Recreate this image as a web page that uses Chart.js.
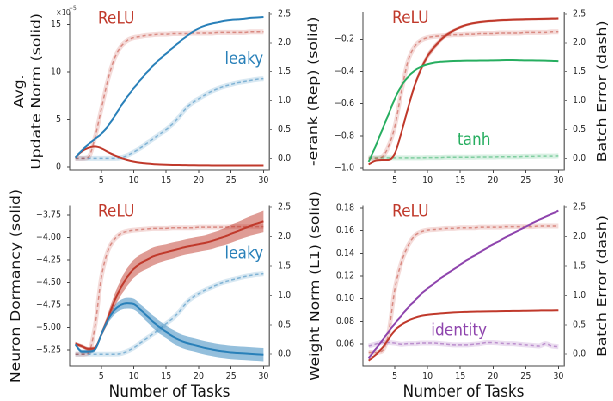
<!DOCTYPE html>
<html>
<head>
<meta charset="utf-8">
<script src="https://cdn.jsdelivr.net/npm/chart.js@4.4.1/dist/chart.umd.min.js"></script>
<style>
  html, body { margin: 0; padding: 0; background: #fff; overflow: hidden; }
  #wrap { position: relative; width: 713px; height: 401px; transform: scaleX(0.86); transform-origin: 0 0; }
  canvas { position: absolute; }
</style>
</head>
<body>
<div id="wrap">
  <canvas id="c1" width="349" height="195" style="left:0;top:0"></canvas>
  <canvas id="c2" width="364" height="195" style="left:349px;top:0"></canvas>
  <canvas id="c3" width="349" height="230" style="left:0;top:175px"></canvas>
  <canvas id="c4" width="364" height="230" style="left:349px;top:175px"></canvas>
</div>
<script>
// ---- data ----
const tasks = [1,2,3,4,5,6,7,8,9,10,11,12,13,14,15,16,17,18,19,20,21,22,23,24,25,26,27,28,29,30];
const xTicks = [5, 10, 15, 20, 25, 30];
const errTicks = [0, 0.5, 1, 1.5, 2, 2.5];

// avg update norm (x1e-5) / batch error
const updTicks = [0, 5, 10, 15];
const updRelu = [1.0,1.65,2.03,2.18,2.0,1.6,1.25,0.98,0.75,0.58,0.46,0.38,0.32,0.28,0.25,0.23,0.22,0.21,0.2,0.19,0.19,0.18,0.18,0.18,0.17,0.17,0.17,0.17,0.17,0.17];
const updLeaky = [1.0,1.75,2.4,2.95,3.5,4.3,5.3,6.4,7.4,8.3,9.15,9.95,10.7,11.35,11.95,12.55,13.15,13.7,14.2,14.6,14.9,15.1,15.25,15.4,15.5,15.55,15.6,15.7,15.75,15.8];
const updReluErr = [0,0,0.02,0.35,0.85,1.35,1.72,1.93,2.04,2.09,2.11,2.13,2.14,2.15,2.15,2.16,2.16,2.16,2.17,2.17,2.17,2.17,2.18,2.18,2.18,2.18,2.18,2.19,2.19,2.19];
const updLeakyErr = [0,0,0,0,0,0,0,0.01,0.05,0.11,0.18,0.26,0.34,0.42,0.5,0.6,0.72,0.86,0.96,1.03,1.1,1.16,1.21,1.25,1.28,1.31,1.33,1.35,1.37,1.38];

// -erank / batch error
const erankTicks = [-1, -0.8, -0.6, -0.4, -0.2];
const erankRelu = [-0.977,-0.955,-0.95,-0.95,-0.91,-0.78,-0.63,-0.49,-0.385,-0.305,-0.25,-0.205,-0.17,-0.145,-0.125,-0.11,-0.1,-0.093,-0.088,-0.085,-0.082,-0.08,-0.078,-0.077,-0.076,-0.075,-0.074,-0.073,-0.072,-0.071];
const erankReluSd = [0.005,0.005,0.005,0.005,0.01,0.015,0.02,0.02,0.02,0.02,0.018,0.015,0.012,0.01,0.01,0.008,0.008,0.008,0.008,0.008,0.008,0.008,0.008,0.008,0.008,0.008,0.008,0.008,0.008,0.008];
const erankTanh = [-0.962,-0.87,-0.77,-0.67,-0.57,-0.49,-0.435,-0.395,-0.37,-0.355,-0.345,-0.34,-0.337,-0.335,-0.334,-0.333,-0.333,-0.332,-0.332,-0.331,-0.33,-0.329,-0.329,-0.33,-0.331,-0.331,-0.332,-0.333,-0.334,-0.336];
const erankReluErr = [0,0,0.02,0.2,0.55,1.15,1.68,1.93,2.04,2.09,2.11,2.12,2.13,2.14,2.14,2.15,2.15,2.16,2.16,2.16,2.17,2.17,2.17,2.17,2.18,2.18,2.18,2.18,2.19,2.19];
const erankTanhErr = [0.01,0.01,0.01,0.01,0.01,0.01,0.01,0.01,0.01,0.015,0.015,0.015,0.02,0.02,0.02,0.02,0.02,0.025,0.025,0.025,0.03,0.03,0.03,0.03,0.035,0.035,0.04,0.04,0.04,0.045];

// neuron dormancy / batch error
const dormTicks = [-5.25, -5, -4.75, -4.5, -4.25, -4, -3.75];
const dormRelu = [-5.18,-5.21,-5.24,-5.23,-5.08,-4.9,-4.71,-4.56,-4.44,-4.35,-4.29,-4.25,-4.21,-4.185,-4.165,-4.145,-4.125,-4.105,-4.09,-4.075,-4.06,-4.04,-4.015,-3.99,-3.96,-3.93,-3.9,-3.87,-3.845,-3.82];
const dormReluSd = [0.02,0.02,0.02,0.02,0.03,0.05,0.07,0.09,0.1,0.1,0.1,0.1,0.1,0.095,0.09,0.09,0.085,0.085,0.085,0.085,0.085,0.09,0.09,0.095,0.1,0.1,0.105,0.11,0.115,0.12];
const dormLeaky = [-5.19,-5.27,-5.27,-5.25,-5.08,-4.92,-4.81,-4.75,-4.73,-4.74,-4.8,-4.87,-4.94,-5.0,-5.05,-5.1,-5.14,-5.17,-5.19,-5.21,-5.23,-5.245,-5.26,-5.27,-5.28,-5.285,-5.29,-5.295,-5.3,-5.305];
const dormLeakySd = [0.02,0.02,0.02,0.02,0.03,0.04,0.05,0.055,0.06,0.06,0.06,0.065,0.07,0.07,0.07,0.075,0.075,0.075,0.075,0.075,0.075,0.075,0.075,0.075,0.075,0.075,0.075,0.075,0.075,0.075];
const dormReluErr = [0,0,0.02,0.45,1.3,1.75,1.95,2.05,2.09,2.11,2.12,2.13,2.14,2.14,2.14,2.15,2.15,2.15,2.15,2.16,2.16,2.16,2.16,2.16,2.17,2.17,2.17,2.17,2.17,2.17];
const dormLeakyErr = [0,0,0,0,0,0,0,0.01,0.05,0.11,0.19,0.27,0.35,0.43,0.52,0.61,0.72,0.86,0.96,1.03,1.09,1.14,1.19,1.23,1.26,1.29,1.32,1.34,1.36,1.37];

// weight norm (L1) / batch error
const wnTicks = [0.06, 0.08, 0.10, 0.12, 0.14, 0.16, 0.18];
const wnRelu = [0.0453,0.05,0.056,0.064,0.072,0.077,0.0805,0.083,0.0848,0.0858,0.0865,0.087,0.0875,0.0879,0.0882,0.0884,0.0886,0.0887,0.0888,0.0889,0.089,0.0891,0.0892,0.0893,0.0894,0.0895,0.0896,0.0897,0.0897,0.0898];
const wnIdentity = [0.0474,0.055,0.0625,0.0705,0.078,0.085,0.092,0.098,0.104,0.109,0.1135,0.118,0.122,0.126,0.13,0.134,0.1375,0.141,0.1445,0.148,0.151,0.1545,0.1575,0.1605,0.1635,0.1665,0.1695,0.1723,0.175,0.1777];
const wnReluErr = [0.03,0.03,0.05,0.33,1.1,1.56,1.84,2.01,2.08,2.11,2.12,2.13,2.14,2.14,2.15,2.15,2.15,2.16,2.16,2.16,2.16,2.17,2.17,2.17,2.17,2.17,2.18,2.18,2.18,2.18];
const wnIdentityErr = [0.14,0.17,0.2,0.2,0.19,0.17,0.18,0.18,0.19,0.19,0.19,0.18,0.17,0.16,0.16,0.16,0.17,0.18,0.2,0.2,0.19,0.18,0.18,0.17,0.16,0.15,0.14,0.18,0.14,0.13];

// ---- styling ----
const RED = '#c0392b', BLUE = '#2980b9', GREEN = '#27ae60', PURPLE = '#8e44ad';
const FONT = 'DejaVu Sans';
Chart.defaults.font.family = FONT;

function rgba(hex, a) {
  const n = parseInt(hex.slice(1), 16);
  return `rgba(${n >> 16},${(n >> 8) & 255},${n & 255},${a})`;
}
const pts = (vals) => tasks.map((t, i) => ({ x: t, y: vals[i] }));
const minus = (s) => s.replace('-', '\u2212');

function solid(vals, color, order) {
  return { data: pts(vals), yAxisID: 'y', borderColor: color, borderWidth: 2, pointRadius: 0,
    cubicInterpolationMode: 'monotone', fill: false, order: order || 1 };
}
function band(vals, sd, color, alpha) {
  const lo = vals.map((v, i) => v - sd[i]);
  const hi = vals.map((v, i) => v + sd[i]);
  return [
    { data: pts(lo), yAxisID: 'y', borderWidth: 0, pointRadius: 0, cubicInterpolationMode: 'monotone', fill: false, order: 8 },
    { data: pts(hi), yAxisID: 'y', borderWidth: 0, pointRadius: 0, cubicInterpolationMode: 'monotone',
      fill: '-1', backgroundColor: rgba(color, alpha), order: 8 }
  ];
}
function dashed(vals, color) {
  return [
    { data: pts(vals), yAxisID: 'y1', borderColor: rgba(color, 0.18), borderWidth: 5, pointRadius: 0,
      cubicInterpolationMode: 'monotone', fill: false, order: 6 },
    { data: pts(vals), yAxisID: 'y1', borderColor: rgba(color, 0.5), borderWidth: 1.5, borderDash: [4, 3],
      pointRadius: 0, cubicInterpolationMode: 'monotone', fill: false, order: 5 }
  ];
}

function scales(o) {
  const tickFont = { size: 9.5, family: FONT };
  return {
    x: {
      type: 'linear', min: 0.13, max: 30.87,
      afterBuildTicks: (s) => { s.ticks = xTicks.map((v) => ({ value: v })); },
      afterFit: (s) => { s.height = o.xh; },
      ticks: { color: '#222', font: tickFont, padding: 2, maxRotation: 0 },
      grid: { drawOnChartArea: false, tickLength: 3, color: '#444' },
      border: { color: '#444', width: 1 },
      title: { display: !!o.xTitle, text: o.xTitle, color: '#111', font: { size: 17, family: FONT }, padding: { top: 0, bottom: 2 } }
    },
    y: {
      position: 'left', min: o.ymin, max: o.ymax,
      afterBuildTicks: (s) => { s.ticks = o.yTicks.map((v) => ({ value: v })); },
      afterFit: (s) => { s.width = o.lw; },
      ticks: { color: '#222', font: tickFont, padding: 7, callback: o.fmt },
      grid: { drawOnChartArea: false, tickLength: 3, color: '#444' },
      border: { color: '#444', width: 1 },
      title: { display: true, text: o.yTitle, color: '#111', font: { size: 15.5, family: FONT, lineHeight: 1.28 }, padding: { top: o.tPad, bottom: 0 } }
    },
    y1: {
      position: 'right', min: -0.2, max: 2.52,
      afterBuildTicks: (s) => { s.ticks = errTicks.map((v) => ({ value: v })); },
      afterFit: (s) => { s.width = o.rw; },
      ticks: { color: '#222', font: tickFont, padding: 7, callback: (v) => v.toFixed(1) },
      grid: { drawOnChartArea: false, tickLength: 3, color: '#777' },
      border: { color: '#777', width: 1.5 }
    }
  };
}

const extraText = {
  id: 'extraText',
  afterDraw(chart, args, opts) {
    const ctx = chart.ctx, sx = chart.scales.x, sy = chart.scales.y, area = chart.chartArea;
    ctx.save();
    ctx.textAlign = 'center';
    ctx.textBaseline = 'middle';
    (opts.tags || []).forEach((t) => {
      ctx.font = `17px "${FONT}"`;
      ctx.fillStyle = t.color;
      ctx.fillText(t.text, sx.getPixelForValue(t.x), sy.getPixelForValue(t.y));
    });
    if (opts.rightTitle) {
      ctx.save();
      ctx.translate(chart.width - 12, (area.top + area.bottom) / 2);
      ctx.rotate(-Math.PI / 2);
      ctx.font = `15.5px "${FONT}"`;
      ctx.fillStyle = '#111';
      ctx.fillText(opts.rightTitle, 0, 0);
      ctx.restore();
    }
    if (opts.exponent) {
      ctx.fillStyle = '#333';
      ctx.textAlign = 'left';
      ctx.textBaseline = 'alphabetic';
      ctx.font = `8px "${FONT}"`;
      ctx.fillText('\u00d710', area.left - 16, 15);
      ctx.font = `6px "${FONT}"`;
      ctx.fillText('\u22125', area.left - 1, 10);
    }
    ctx.restore();
  }
};

function makeChart(id, datasets, sc, extra, padTop) {
  return new Chart(document.getElementById(id), {
    type: 'line',
    data: { datasets },
    plugins: [extraText],
    options: {
      responsive: false,
      animation: false,
      devicePixelRatio: 2,
      layout: { padding: { top: padTop, left: 0, right: 0, bottom: 0 } },
      scales: sc,
      plugins: { legend: { display: false }, tooltip: { enabled: false }, extraText: extra }
    }
  });
}

// top left: avg update norm
makeChart('c1', [
  ...dashed(updReluErr, RED), ...dashed(updLeakyErr, BLUE),
  solid(updLeaky, BLUE), solid(updRelu, RED)
], scales({ ymin: -0.3, ymax: 16.25, yTicks: updTicks, fmt: (v) => String(v), lw: 81, rw: 36, xh: 25,
  yTitle: ['Avg.', 'Update Norm (solid)'], tPad: 13 }),
  { exponent: true, tags: [{ text: 'ReLU', x: 7.3, y: 15.6, color: RED }, { text: 'leaky', x: 27.0, y: 11.3, color: BLUE }] }, 10);

// top right: -erank
makeChart('c2', [
  ...dashed(erankReluErr, RED), ...dashed(erankTanhErr, GREEN),
  ...band(erankRelu, erankReluSd, RED, 0.35),
  solid(erankTanh, GREEN), solid(erankRelu, RED)
], scales({ ymin: -1.012, ymax: -0.035, yTicks: erankTicks, fmt: (v) => minus(v.toFixed(1)), lw: 73, rw: 57, xh: 25,
  yTitle: '-erank (Rep) (solid)', tPad: 6 }),
  { rightTitle: 'Batch Error (dash)', tags: [{ text: 'ReLU', x: 7.4, y: -0.072, color: RED }, { text: 'tanh', x: 17.1, y: -0.829, color: GREEN }] }, 10);

// bottom left: neuron dormancy
makeChart('c3', [
  ...dashed(dormReluErr, RED), ...dashed(dormLeakyErr, BLUE),
  ...band(dormRelu, dormReluSd, RED, 0.5), ...band(dormLeaky, dormLeakySd, BLUE, 0.5),
  solid(dormLeaky, BLUE), solid(dormRelu, RED)
], scales({ ymin: -5.43, ymax: -3.65, yTicks: dormTicks, fmt: (v) => minus(v.toFixed(2)), lw: 81, rw: 36, xh: 39,
  yTitle: 'Neuron Dormancy (solid)', tPad: 9, xTitle: 'Number of Tasks' }),
  { tags: [{ text: 'ReLU', x: 7.3, y: -3.717, color: RED }, { text: 'leaky', x: 27.0, y: -4.183, color: BLUE }] }, 31);

// bottom right: weight norm
makeChart('c4', [
  ...dashed(wnReluErr, RED), ...dashed(wnIdentityErr, PURPLE),
  solid(wnIdentity, PURPLE), solid(wnRelu, RED)
], scales({ ymin: 0.0406, ymax: 0.1818, yTicks: wnTicks, fmt: (v) => v.toFixed(2), lw: 73, rw: 57, xh: 39,
  yTitle: 'Weight Norm (L1) (solid)', tPad: 8, xTitle: 'Number of Tasks' }),
  { rightTitle: 'Batch Error (dash)', tags: [{ text: 'ReLU', x: 7.4, y: 0.1765, color: RED }, { text: 'identity', x: 14.8, y: 0.0715, color: PURPLE }] }, 31);
</script>
</body>
</html>
